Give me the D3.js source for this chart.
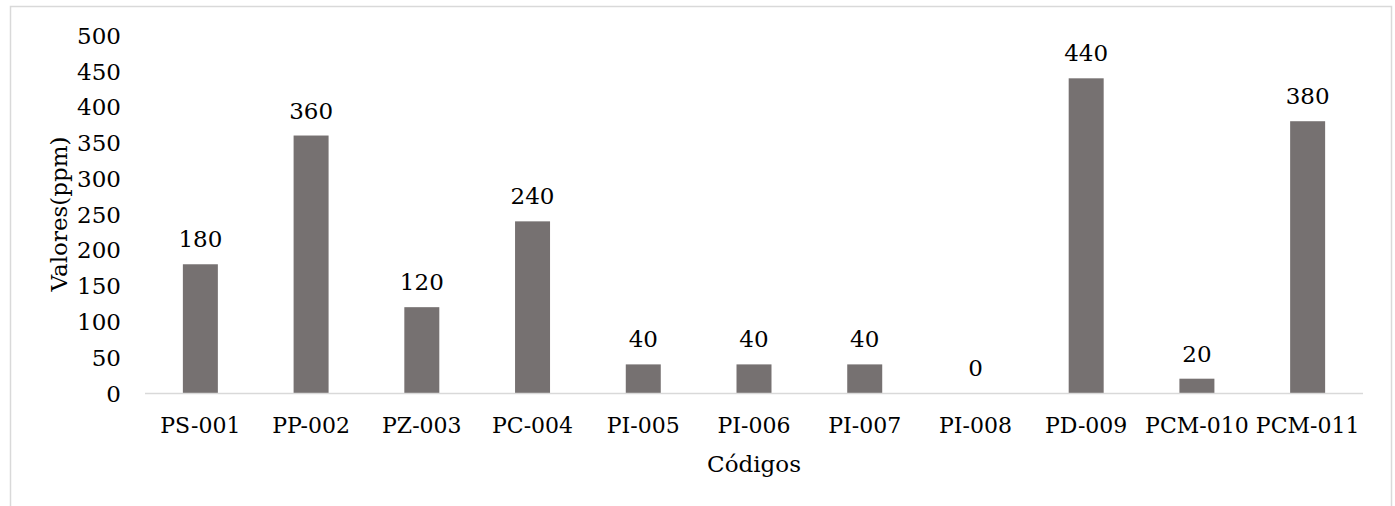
<!DOCTYPE html>
<html>
<head>
    <meta charset="utf-8">
    <style>
        body { margin: 0; background: #fff; }
        text { font-family: "DejaVu Serif"; }
    </style>
</head>
<body>
    <svg width="1395" height="506"></svg>

<script src="https://d3js.org/d3.v7.min.js"></script>
<script>
    // chart values
    const codigos = ["PS-001", "PP-002", "PZ-003", "PC-004", "PI-005", "PI-006", "PI-007", "PI-008", "PD-009", "PCM-010", "PCM-011"];
    const valores = [180, 360, 120, 240, 40, 40, 40, 0, 440, 20, 380];
    const yTicks = [0, 50, 100, 150, 200, 250, 300, 350, 400, 450, 500];

    const fs = "23px"

    let svg = d3.select("svg")

    // outer chart border (runs past the bottom of the picture)
    svg.append("rect")
        .attr("x", 10.5).attr("y", 6.5)
        .attr("width", 1381).attr("height", 540)
        .style("fill", "none")
        .style("stroke", "#d9d9d9")
        .style("stroke-width", 1.5)

    let x = d3.scaleBand()
        .domain(codigos)
        .range([145, 1363])
        .paddingInner(0.684)
        .paddingOuter(0.342)

    let y = d3.scaleLinear()
        .domain([0, 500])
        .range([393, 35.4])

    // y tick labels, no axis line
    svg.append("g")
        .selectAll("text")
        .data(yTicks)
        .join("text")
        .attr("x", 121)
        .attr("y", d => y(d) + 8.5)
        .attr("text-anchor", "end")
        .style("font-size", fs)
        .text(d => d)

    // bars
    svg.append("g")
        .selectAll("rect")
        .data(valores)
        .join("rect")
        .attr("x", (d, i) => x(codigos[i]))
        .attr("width", x.bandwidth())
        .attr("y", d => y(d))
        .attr("height", d => y(0) - y(d))
        .style("fill", "#767171")

    // baseline
    svg.append("line")
        .attr("x1", 145).attr("x2", 1363)
        .attr("y1", y(0) + 0.5).attr("y2", y(0) + 0.5)
        .style("stroke", "#d9d9d9")
        .style("stroke-width", 1.5)

    // value labels
    svg.append("g")
        .selectAll("text")
        .data(valores)
        .join("text")
        .attr("x", (d, i) => x(codigos[i]) + x.bandwidth() / 2)
        .attr("y", d => y(d) - 17)
        .attr("text-anchor", "middle")
        .style("font-size", fs)
        .text(d => d)

    // category labels (a bit smaller so PCM-010 / PCM-011 don't touch)
    svg.append("g")
        .selectAll("text")
        .data(codigos)
        .join("text")
        .attr("x", d => x(d) + x.bandwidth() / 2)
        .attr("y", y(0) + 40)
        .attr("text-anchor", "middle")
        .style("font-size", "22px")
        .text(d => d)

    // axis titles
    svg.append("text")
        .attr("x", 754)
        .attr("y", 472)
        .attr("text-anchor", "middle")
        .style("font-size", fs)
        .text("Códigos")

    svg.append("text")
        .attr("transform", "translate(67,214) rotate(-90)")
        .attr("text-anchor", "middle")
        .style("font-size", fs)
        .text("Valores(ppm)")
</script>
</body>
</html>
